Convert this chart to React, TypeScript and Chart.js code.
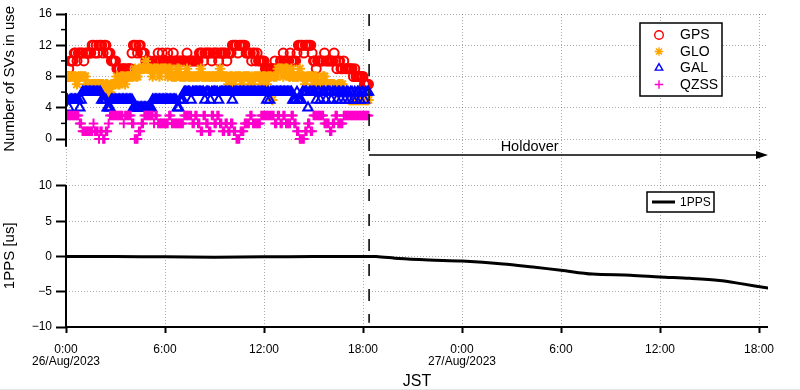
import React, { useEffect, useRef } from "react";
import { Chart, registerables } from "chart.js";

Chart.register(...registerables);

// ---- data ----
const SAMPLE_STEP_MIN = 5; // satellite counts sampled every 5 minutes from 0:00 26/Aug (one row = 1 hour)

const gpsCounts = [
  8, 8, 9, 10, 10, 10, 11, 11, 10, 11, 11, 11,
  11, 10, 11, 11, 11, 11, 11, 12, 12, 11, 12, 11,
  12, 12, 12, 11, 12, 12, 11, 11, 11, 10, 10, 10,
  10, 9, 9, 9, 8, 9, 9, 9, 8, 9, 9, 9,
  11, 12, 12, 12, 11, 12, 12, 11, 11, 11, 10, 10,
  10, 10, 9, 9, 10, 10, 10, 11, 10, 10, 11, 10,
  10, 10, 11, 10, 10, 10, 11, 10, 10, 10, 10, 10,
  10, 10, 10, 10, 11, 10, 10, 10, 10, 10, 10, 10,
  10, 11, 11, 11, 10, 11, 11, 11, 11, 11, 10, 11,
  11, 11, 11, 10, 11, 11, 11, 11, 11, 10, 11, 11,
  11, 12, 12, 12, 12, 11, 12, 12, 12, 12, 12, 11,
  11, 11, 11, 10, 11, 11, 10, 11, 10, 10, 10, 10,
  10, 9, 9, 9, 9, 9, 9, 9, 10, 9, 9, 9,
  10, 10, 11, 10, 10, 10, 10, 11, 10, 10, 10, 10,
  11, 12, 12, 12, 12, 11, 12, 12, 12, 12, 12, 11,
  10, 10, 9, 10, 10, 10, 10, 10, 11, 10, 10, 10,
  10, 10, 10, 11, 10, 9, 10, 10, 9, 9, 10, 9,
  9, 9, 9, 9, 9, 8, 9, 8, 8, 8, 8, 8,
  8, 7, 7, 7, 7,
];

const gloCounts = [
  8, 8, 8, 8, 8, 8, 8, 8, 7, 8, 8, 8,
  8, 8, 8, 7, 7, 7, 7, 7, 7, 7, 7, 7,
  7, 7, 7, 7, 6, 7, 7, 6, 6, 7, 7, 7,
  7, 8, 7, 7, 8, 8, 8, 7, 8, 8, 8, 8,
  8, 8, 9, 8, 8, 9, 9, 9, 9, 9, 10, 9,
  9, 9, 9, 8, 9, 9, 9, 9, 8, 9, 9, 9,
  9, 9, 8, 9, 9, 8, 8, 8, 8, 9, 9, 8,
  8, 8, 8, 8, 9, 8, 8, 8, 8, 8, 8, 8,
  8, 8, 9, 8, 8, 8, 8, 8, 8, 8, 8, 8,
  8, 8, 8, 8, 9, 8, 8, 8, 8, 8, 7, 8,
  8, 8, 7, 8, 8, 8, 8, 8, 7, 8, 8, 8,
  8, 8, 7, 8, 7, 8, 8, 8, 8, 8, 7, 8,
  8, 8, 7, 8, 8, 8, 5, 8, 8, 8, 9, 9,
  9, 9, 8, 9, 9, 9, 8, 8, 9, 8, 8, 8,
  8, 8, 9, 8, 8, 8, 7, 8, 8, 8, 8, 8,
  7, 8, 8, 7, 7, 7, 7, 8, 8, 7, 7, 7,
  7, 7, 7, 7, 6, 6, 7, 7, 7, 7, 6, 6,
  6, 6, 5, 5, 5, 5, 5, 5, 5, 5, 5, 5,
  5, 5, 5, 5, 5,
];

const galCounts = [
  5, 5, 4, 5, 5, 5, 5, 5, 5, 5, 4, 5,
  6, 6, 6, 6, 6, 6, 6, 6, 6, 6, 6, 6,
  6, 6, 5, 5, 5, 5, 4, 4, 4, 5, 5, 5,
  5, 5, 5, 5, 5, 5, 5, 5, 5, 5, 5, 5,
  5, 4, 4, 4, 4, 4, 4, 4, 4, 4, 4, 4,
  4, 4, 4, 5, 5, 5, 5, 5, 5, 5, 5, 5,
  5, 5, 5, 5, 5, 5, 5, 5, 5, 4, 4, 5,
  5, 5, 6, 6, 6, 6, 6, 5, 6, 6, 6, 6,
  6, 6, 6, 6, 6, 5, 6, 6, 6, 5, 6, 6,
  6, 6, 6, 5, 6, 6, 6, 6, 6, 6, 6, 6,
  6, 5, 6, 6, 6, 6, 6, 6, 6, 6, 6, 6,
  6, 6, 6, 6, 6, 6, 6, 6, 6, 6, 6, 6,
  6, 6, 5, 6, 5, 6, 6, 6, 6, 6, 6, 6,
  6, 6, 6, 6, 6, 6, 6, 6, 6, 5, 5, 5,
  6, 5, 5, 5, 6, 6, 6, 6, 4, 6, 6, 6,
  6, 6, 5, 6, 6, 5, 6, 6, 6, 5, 6, 6,
  6, 5, 6, 6, 6, 5, 6, 6, 5, 6, 6, 5,
  6, 6, 5, 6, 6, 5, 6, 5, 6, 6, 5, 6,
  6, 5, 6, 6, 6,
];

const qzssCounts = [
  3, 3, 3, 3, 3, 3, 3, 3, 3, 3, 2, 2,
  1, 1, 1, 1, 1, 1, 1, 1, 2, 1, 1, 1,
  0, 1, 1, 0, 0, 1, 1, 2, 3, 3, 3, 3,
  3, 3, 3, 3, 3, 3, 2, 3, 3, 3, 3, 3,
  2, 2, 0, 0, 0, 1, 1, 2, 2, 3, 3, 3,
  3, 3, 3, 3, 2, 3, 3, 2, 2, 2, 2, 2,
  2, 2, 2, 3, 3, 2, 2, 2, 2, 2, 2, 2,
  2, 2, 3, 3, 3, 3, 3, 3, 2, 2, 3, 3,
  2, 2, 1, 1, 3, 3, 2, 2, 1, 1, 3, 3,
  2, 2, 3, 3, 2, 2, 1, 1, 2, 2, 1, 1,
  2, 2, 1, 1, 0, 0, 0, 1, 1, 1, 2, 2,
  2, 2, 3, 3, 2, 2, 2, 2, 2, 2, 3, 3,
  3, 3, 3, 3, 3, 3, 3, 3, 2, 2, 3, 3,
  2, 2, 3, 3, 2, 2, 2, 2, 3, 3, 2, 2,
  1, 1, 0, 0, 0, 0, 1, 1, 2, 2, 1, 1,
  3, 3, 3, 3, 3, 3, 3, 3, 2, 2, 2, 2,
  1, 1, 2, 2, 3, 3, 2, 2, 2, 2, 3, 3,
  3, 3, 3, 3, 3, 3, 3, 3, 3, 3, 3, 3,
  3, 3, 3, 3, 3,
];

// 1PPS offset [us] vs hours since 0:00 26/Aug/2023
const ppsHours = [0, 3, 6, 9, 12, 15, 18, 18.8, 20.2, 22, 24, 26.5, 28.3, 30, 31.9, 34.2, 36, 37.8, 39.6, 40.9, 42.6];
const ppsValues = [0, 0, -0.05, -0.1, -0.05, 0, 0, 0, -0.3, -0.5, -0.65, -1.05, -1.5, -1.95, -2.5, -2.65, -2.9, -3.1, -3.4, -3.85, -4.5];

const holdoverStartHour = 18.37;
const xMaxHour = 42.545;

const xTickHours = [0, 6, 12, 18, 24, 30, 36, 42];
const xTickTimes = ["0:00", "6:00", "12:00", "18:00", "0:00", "6:00", "12:00", "18:00"];
const xTickDates: Record<number, string> = { 0: "26/Aug/2023", 24: "27/Aug/2023" };
const svTicks = [0, 4, 8, 12, 16];
const svMinorTicks = [2, 6, 10, 14];
const ppsTicks = [-10, -5, 0, 5, 10];

const seriesNames = ["GPS", "GLO", "GAL", "QZSS"];
const seriesData = [gpsCounts, gloCounts, galCounts, qzssCounts];
const seriesColors = ["#ff0000", "#ffa500", "#0000ff", "#ff00cc"];
const seriesStyles = ["circle", "star", "triangle", "cross"];
const seriesRadius = [4.5, 5.2, 5.4, 4.8];

const FONT = '"Liberation Sans", Arial, sans-serif';
const GRID = "rgba(0,0,0,0.33)";

function drawMarker(ctx: CanvasRenderingContext2D, style: string, x: number, y: number, r: number, color: string) {
  ctx.save();
  ctx.strokeStyle = color;
  ctx.lineWidth = 1.4;
  ctx.beginPath();
  if (style === "circle") {
    ctx.arc(x, y, r, 0, Math.PI * 2);
  } else if (style === "triangle") {
    ctx.moveTo(x, y - r);
    ctx.lineTo(x - r * 0.866, y + r / 2);
    ctx.lineTo(x + r * 0.866, y + r / 2);
    ctx.closePath();
  } else if (style === "cross") {
    ctx.moveTo(x - r, y); ctx.lineTo(x + r, y);
    ctx.moveTo(x, y - r); ctx.lineTo(x, y + r);
  } else {
    for (let k = 0; k < 4; k++) {
      const a = (k * Math.PI) / 4;
      ctx.moveTo(x - r * Math.cos(a), y - r * Math.sin(a));
      ctx.lineTo(x + r * Math.cos(a), y + r * Math.sin(a));
    }
  }
  ctx.stroke();
  ctx.restore();
}

const overlayPlugin = {
  id: "overlay",
  afterDraw(chart: any) {
    const { ctx, chartArea, scales } = chart;
    const xs = scales.x, ySV = scales.ySV, yP = scales.yPPS;
    const line = (x1: number, y1: number, x2: number, y2: number) => {
      ctx.beginPath(); ctx.moveTo(x1, y1); ctx.lineTo(x2, y2); ctx.stroke();
    };
    ctx.save();
    ctx.fillStyle = "#e4e4e4";
    ctx.fillRect(0, 389, 800, 1);

    // axis lines
    ctx.strokeStyle = "#000";
    ctx.lineWidth = 2;
    const xl = chartArea.left;
    line(xl, ySV.getPixelForValue(16) - 1, xl, ySV.getPixelForValue(-1));
    line(xl, yP.getPixelForValue(10) - 1, xl, yP.getPixelForValue(-10) + 1);
    line(xl - 1, chartArea.bottom, chartArea.right, chartArea.bottom);
    ctx.lineWidth = 1.5;
    svMinorTicks.forEach((v) => {
      const y = ySV.getPixelForValue(v);
      line(xl - 5, y, xl, y);
    });

    // holdover start line
    const hx = xs.getPixelForValue(holdoverStartHour);
    ctx.strokeStyle = "#222";
    ctx.lineWidth = 1.8;
    ctx.setLineDash([12, 13]);
    line(hx, chartArea.top, hx, yP.getPixelForValue(-9.4));
    ctx.setLineDash([]);

    // holdover arrow
    const ay = ySV.getPixelForValue(-2.05);
    ctx.strokeStyle = "#000";
    ctx.lineWidth = 1.5;
    line(hx, ay, chartArea.right - 8, ay);
    ctx.fillStyle = "#000";
    ctx.beginPath();
    ctx.moveTo(chartArea.right, ay);
    ctx.lineTo(chartArea.right - 12, ay - 4);
    ctx.lineTo(chartArea.right - 12, ay + 4);
    ctx.closePath();
    ctx.fill();
    ctx.font = `14.5px ${FONT}`;
    ctx.textAlign = "center";
    ctx.textBaseline = "middle";
    ctx.fillText("Holdover", xs.getPixelForValue(28.1), ay - 8.5);

    // axis titles
    ctx.font = `15px ${FONT}`;
    ctx.save();
    ctx.translate(10, ySV.getPixelForValue(7.7));
    ctx.rotate(-Math.PI / 2);
    ctx.fillText("Number of SVs in use", 0, 0);
    ctx.restore();
    ctx.save();
    ctx.translate(10, yP.getPixelForValue(0.1));
    ctx.rotate(-Math.PI / 2);
    ctx.fillText("1PPS [us]", 0, 0);
    ctx.restore();
    ctx.font = `16px ${FONT}`;
    ctx.fillText("JST", (chartArea.left + chartArea.right) / 2, 382);

    // top legend
    ctx.fillStyle = "#fff";
    ctx.fillRect(640, 23, 82, 73);
    ctx.strokeStyle = "#000";
    ctx.lineWidth = 1.5;
    ctx.strokeRect(640, 23, 82, 73);
    ctx.font = `14px ${FONT}`;
    ctx.textAlign = "left";
    seriesNames.forEach((name, i) => {
      const y = 35 + i * 16.5;
      drawMarker(ctx, seriesStyles[i], 659, y, 4.3, seriesColors[i]);
      ctx.fillStyle = "#000";
      ctx.fillText(name, 680, y + 0.5);
    });

    // bottom legend
    ctx.fillStyle = "#fff";
    ctx.fillRect(647, 192, 67, 20);
    ctx.strokeStyle = "#000";
    ctx.lineWidth = 1.5;
    ctx.strokeRect(647, 192, 67, 20);
    ctx.lineWidth = 3;
    line(652, 202, 675, 202);
    ctx.fillStyle = "#000";
    ctx.font = `12px ${FONT}`;
    ctx.fillText("1PPS", 680, 202.5);
    ctx.restore();
  },
};

const yLabel = (v: any) => (Number(v) < 0 ? "\u2212" + Math.abs(Number(v)) : String(v));

export default function App() {
  const ref = useRef<HTMLCanvasElement>(null);
  useEffect(() => {
    document.body.style.margin = "0";
    const svDatasets = seriesData.map((arr, i) => ({
      label: seriesNames[i],
      data: arr.map((v, k) => ({ x: (k * SAMPLE_STEP_MIN) / 60, y: v })),
      yAxisID: "ySV",
      showLine: false,
      pointStyle: seriesStyles[i],
      pointRadius: seriesRadius[i],
      pointBorderWidth: 2,
      pointBorderColor: seriesColors[i],
      pointBackgroundColor: "rgba(0,0,0,0)",
      borderColor: seriesColors[i],
      backgroundColor: "rgba(0,0,0,0)",
      order: 4 - i + 1,
    }));
    const ppsDataset = {
      label: "1PPS",
      data: ppsHours.map((h, k) => ({ x: h, y: ppsValues[k] })),
      yAxisID: "yPPS",
      showLine: true,
      pointRadius: 0,
      borderColor: "#000",
      borderWidth: 3,
      tension: 0.3,
      order: 0,
    };
    const yCommon = {
      position: "left" as const,
      stack: "panels",
      bounds: "data" as const,
      afterFit: (s: any) => { s.width = 66; },
      grid: { color: GRID, lineWidth: 1, drawTicks: true, tickLength: 10, tickColor: "#000", tickWidth: 2, tickBorderDash: [] },
      border: { display: false, dash: [1, 2] },
      ticks: { padding: 4, color: "#000", font: { family: FONT, size: 12 }, callback: yLabel },
    };
    const chart = new Chart(ref.current!, {
      type: "scatter",
      data: { datasets: [...svDatasets, ppsDataset] as any },
      plugins: [overlayPlugin],
      options: {
        responsive: false,
        animation: false,
        devicePixelRatio: 1,
        events: [],
        layout: { padding: { left: 0, right: 32, top: 14, bottom: 0 } },
        plugins: { legend: { display: false }, tooltip: { enabled: false } },
        scales: {
          x: {
            type: "linear",
            position: "bottom",
            min: 0,
            max: xMaxHour,
            afterBuildTicks: (s: any) => { s.ticks = xTickHours.map((v) => ({ value: v })); },
            afterFit: (s: any) => { s.height = 63; },
            grid: { color: GRID, lineWidth: 1, drawTicks: true, tickLength: 6, tickColor: "#000", tickWidth: 2, tickBorderDash: [] },
            border: { display: false, dash: [1, 2] },
            ticks: {
              autoSkip: false,
              maxRotation: 0,
              padding: 11,
              color: "#000",
              font: { family: FONT, size: 12, lineHeight: 1 },
              callback: (v: any) => {
                const i = xTickHours.indexOf(Number(v));
                const t = xTickTimes[i];
                const d = xTickDates[Number(v)];
                return d ? [t, d] : t;
              },
            },
          },
          yPPS: {
            ...yCommon,
            type: "linear",
            weight: 0,
            stackWeight: 164,
            min: -10,
            max: 13.26,
            afterBuildTicks: (s: any) => { s.ticks = ppsTicks.map((v) => ({ value: v })); },
          },
          ySV: {
            ...yCommon,
            type: "linear",
            weight: 1,
            stackWeight: 149,
            min: -3.072,
            max: 16,
            afterBuildTicks: (s: any) => { s.ticks = svTicks.map((v) => ({ value: v })); },
          },
        } as any,
      },
    } as any);
    return () => chart.destroy();
  }, []);
  return (
    <div style={{ width: 800, height: 390 }}>
      <canvas ref={ref} width={800} height={390} style={{ display: "block" }} />
    </div>
  );
}
